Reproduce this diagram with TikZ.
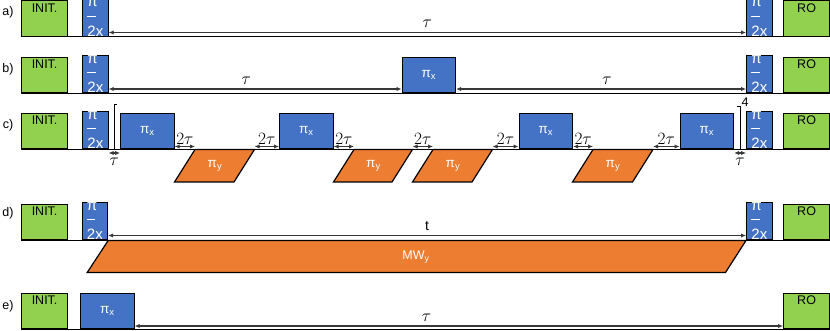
\documentclass[tikz,border=0pt]{standalone}
\usepackage{fontspec}
\setmainfont{Liberation Sans}
\usepackage{tikz}
\usetikzlibrary{arrows.meta,positioning,calc}
\definecolor{initgreen}{HTML}{92D050}
\definecolor{pulseblue}{HTML}{4472C4}
\definecolor{mworange}{HTML}{ED7D31}
\definecolor{arrgray}{HTML}{383838}
\tikzset{stage/.style={draw,fill=initgreen,line width=1.2pt,minimum width=46pt,minimum height=35.5pt,anchor=south west,inner sep=0pt},
lab/.style={font=\fontsize{12.5}{15}\selectfont,inner sep=1pt},
taulab/.style={font=\fontsize{17}{19}\selectfont,inner sep=1pt},
init/.style={stage,label={[lab,anchor=north,inner sep=3pt]north:INIT.}},
ro/.style={stage,label={[lab,anchor=north,inner sep=3pt]north:RO}},
pulse/.style={draw,fill=pulseblue,line width=1.2pt,minimum height=35.5pt,anchor=south west,inner sep=0pt,text=white},
halfpi/.style={pulse,minimum width=25.5pt,align=left,font=\fontsize{15}{18}\selectfont,node contents={\rlap{\rule[-10pt]{8.5pt}{1pt}}π\\[8pt]2x}},
pix/.style={pulse,minimum width=53.5pt,font=\fontsize{13.5}{16}\selectfont,node contents={π\textsubscript{x}}},
mw/.style={draw,fill=mworange,line width=1.2pt},
arr/.style={{Latex[length=5pt,width=4.5pt]}-{Latex[length=5pt,width=4.5pt]},line width=1.1pt,draw=arrgray},
base/.style={line width=1pt}}

\begin{document}
\begin{tikzpicture}[x=1pt,y=-1pt]
\useasboundingbox (0,0) rectangle (830,331);
% a) Ramsey
\node[lab] (la) at (8,12) {a)};
\node[init] (a0) at (21,37) {};
\node (a1) at (82,37) [halfpi];
\node (a2) at (746,37) [halfpi];
\node[ro] (a3) at (783,37) {};
\draw[base] (a0.south west) -- (a3.south east);
\draw[arr] ([yshift=4.5pt]a1.south east) -- ([yshift=4.5pt]a2.south west) node[midway,above=3pt,taulab] {$\tau$};
% b) Hahn echo
\node[lab] (lb) at (8,69) {b)};
\node[init] (b0) at (21,93.5) {};
\node (b1) at (82,93.5) [halfpi];
\node (b2) at (401.5,93.5) [pix];
\node (b3) at (746,93.5) [halfpi];
\node[ro] (b4) at (783,93.5) {};
\draw[base] (b0.south west) -- (b4.south east);
\draw[arr] ([yshift=4.5pt]b1.south east) -- ([yshift=4.5pt]b2.south west) node[pos=0.47,above=3pt,taulab] {$\tau$};
\draw[arr] ([yshift=4.5pt]b2.south east) -- ([yshift=4.5pt]b3.south west) node[pos=0.52,above=3pt,taulab] {$\tau$};
% c) XY-4 train
\node[lab] (lc) at (8,125) {c)};
\node[init] (c0) at (21,149.5) {};
\node (c1) at (82,149.5) [halfpi];
\node (c2) at (120,149.5) [pix];
\node (c3) at (279,149.5) [pix];
\node (c4) at (518.5,149.5) [pix];
\node (c5) at (679.5,149.5) [pix];
\node (c6) at (746,149.5) [halfpi];
\node[ro] (c7) at (783,149.5) {};
\draw[mw] (195,149.5) coordinate (y1) -- ++(59.5,0) coordinate (y1e) -- ++(-20.5,32.5) -- ++(-59.5,0) -- cycle;
\draw[mw] (354,149.5) coordinate (y2) -- ++(58.5,0) coordinate (y2e) -- ++(-20.5,32.5) -- ++(-58.5,0) -- cycle;
\draw[mw] (433,149.5) coordinate (y3) -- ++(59.5,0) coordinate (y3e) -- ++(-20.5,32.5) -- ++(-59.5,0) -- cycle;
\draw[mw] (593,149.5) coordinate (y4) -- ++(60,0) coordinate (y4e) -- ++(-20.5,32.5) -- ++(-60,0) -- cycle;
\node[lab,text=white,font=\fontsize{13.5}{16}\selectfont] (py1) at (215,166) {π\textsubscript{y}};
\node[lab,text=white,font=\fontsize{13.5}{16}\selectfont] (py2) at (373.5,166) {π\textsubscript{y}};
\node[lab,text=white,font=\fontsize{13.5}{16}\selectfont] (py3) at (453,166) {π\textsubscript{y}};
\node[lab,text=white,font=\fontsize{13.5}{16}\selectfont] (py4) at (613,166) {π\textsubscript{y}};
\draw[base] (c0.south west) -- (c7.south east);
\draw[arr] ([yshift=3pt]c2.south east) -- ([yshift=3pt]y1) node[midway,above=0pt,taulab] {$2\tau$};
\draw[arr] ([yshift=3pt]y1e) -- ([yshift=3pt]c3.south west) node[midway,above=0pt,taulab] {$2\tau$};
\draw[arr] ([yshift=3pt]c3.south east) -- ([yshift=3pt]y2) node[midway,above=0pt,taulab] {$2\tau$};
\draw[arr] ([yshift=3pt]y2e) -- ([yshift=3pt]y3) node[midway,above=0pt,taulab] {$2\tau$};
\draw[arr] ([yshift=3pt]y3e) -- ([yshift=3pt]c4.south west) node[midway,above=0pt,taulab] {$2\tau$};
\draw[arr] ([yshift=3pt]c4.south east) -- ([yshift=3pt]y4) node[midway,above=0pt,taulab] {$2\tau$};
\draw[arr] ([yshift=3pt]y4e) -- ([yshift=3pt]c5.south west) node[midway,above=0pt,taulab] {$2\tau$};
\draw[arr] ([yshift=-3.5pt]c1.south east) -- ([yshift=-3.5pt]c2.south west) node[midway,below=4pt,taulab] {$\tau$};
\draw[arr] ([yshift=-3.5pt]c5.south east) -- ([yshift=-3.5pt]c6.south west) node[midway,below=4pt,taulab] {$\tau$};
\draw[base] ($(c1.south east)!0.5!(c2.south west)$) -- ++(0,-44.5) -- ++(3,0);
\draw[base] ($(c5.south east)!0.5!(c6.south west)$) -- ++(0,-42.5) -- ++(-3,0);
\node[lab] (rep) at (745,102) {4};
% d) Rabi / continuous drive
\node[lab] (ld) at (8,213) {d)};
\node[init] (d0) at (21,240.5) {};
\node (d1) at (81.5,240.5) [halfpi];
\node (d2) at (746,240.5) [halfpi];
\node[ro] (d3) at (783,240.5) {};
\draw[mw] (d1.south east) -- (d2.south west) -- ++(-20.5,32) -- ($(d1.south east)+(-21,32)$) -- cycle;
\node[lab,text=white] (mwy) at (416,257) {MW\textsubscript{y}};
\draw[base] (d0.south west) -- (d3.south east);
\draw[arr] ([yshift=5pt]d1.south east) -- ([yshift=5pt]d2.south west) node[midway,above=3pt,lab,font=\fontsize{14}{16}\selectfont] {t};
% e) T1
\node[lab] (le) at (8,306) {e)};
\node[init] (e0) at (21,329.5) {};
\node (e1) at (80,329.5) [pix];
\node[ro] (e2) at (783,329.5) {};
\draw[base] (e0.south west) -- (e2.south east);
\draw[arr] ([yshift=3.5pt]e1.south east) -- ([yshift=3.5pt]e2.south west) node[pos=0.45,above=3pt,taulab] {$\tau$};
\end{tikzpicture}
\end{document}
